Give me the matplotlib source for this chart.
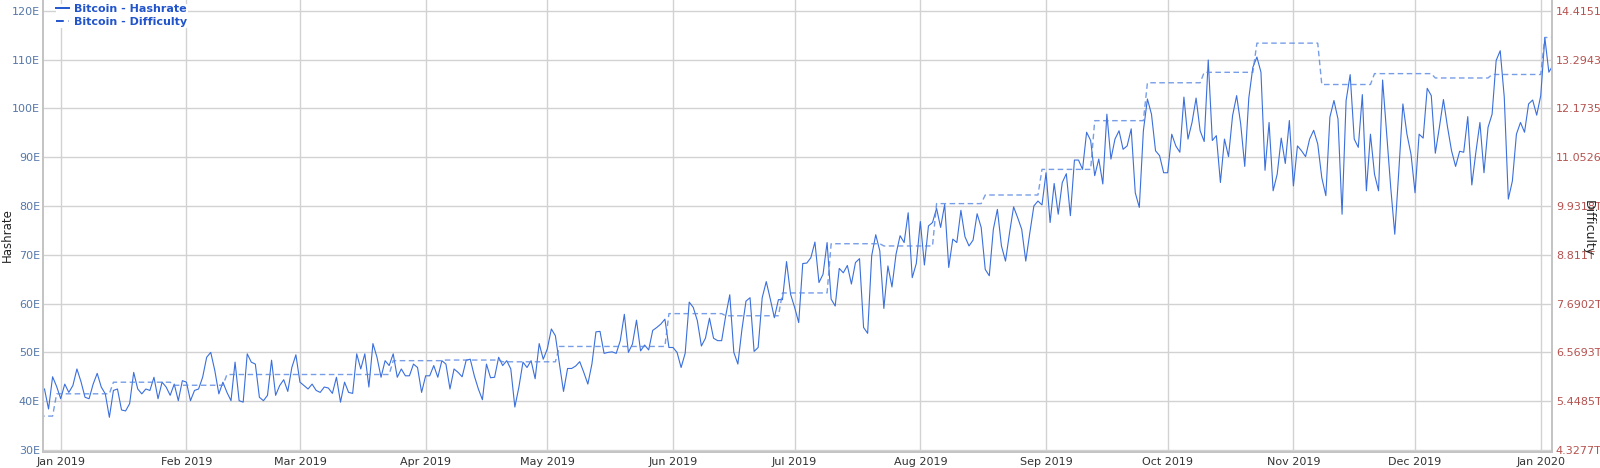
import matplotlib
matplotlib.use("Agg")
import matplotlib.pyplot as plt
import matplotlib.dates as mdates
import pandas as pd

# daily hashrate (EH/s), starting 2018-12-28
hashrate_start = "2018-12-28"
hashrate = [
    42.5, 38.4, 45, 43, 40.5, 43.5, 41.8, 43.2, 46.6, 44,
    40.8, 40.5, 43.5, 45.7, 42.9, 41.5, 36.7, 42.2, 42.5, 38.2,
    38, 39.5, 45.9, 42.5, 41.5, 42.5, 42.2, 44.9, 40.5, 43.9,
    42.9, 41.2, 43.5, 40.1, 44.2, 43.9, 40.1, 42.2, 42.5, 44.9,
    49, 50, 46.3, 41.5, 43.9, 41.8, 40.1, 48, 40.1, 39.8,
    49.7, 48, 47.6, 40.8, 40.1, 41.2, 48.4, 41.2, 43.2, 44.4,
    42, 46.9, 49.5, 43.9, 43.2, 42.5, 43.5, 42.2, 41.8, 42.9,
    42.7, 41.6, 44.9, 39.8, 43.9, 41.8, 41.6, 49.7, 46.6, 49.7,
    42.9, 51.8, 49, 44.9, 48.3, 47.3, 49.7, 44.9, 46.6, 45.2,
    45.2, 47.6, 46.9, 41.8, 45.2, 45.2, 47.3, 44.9, 48.3, 47.6,
    42.5, 46.6, 45.9, 45, 48.4, 48.6, 45.2, 42.5, 40.3, 47.6,
    44.8, 44.9, 49, 47.3, 48.3, 46.6, 38.8, 42.9, 48, 46.9,
    48.3, 44.6, 51.8, 48.6, 50.7, 54.8, 53.4,
    47.6, 42, 46.7, 46.7, 47.2, 48.1, 45.9, 43.5, 47.6, 54.2,
    54.3, 49.8, 50, 50.1, 49.8, 52.4, 57.8, 50, 51.7, 56.6,
    50.3, 51.5, 50.5, 54.5, 55.1, 55.8, 56.8, 51, 51, 50,
    46.9, 49.8, 60.3, 59.2, 56.5, 51.3, 52.9, 57, 52.9, 52.4,
    52.4, 57.5, 61.8, 50, 47.6, 54.7, 60.5, 61.2, 50.2, 51,
    61.2, 64.5, 60.9, 57.1, 60.8, 60.8, 68.6, 61.9, 59.2, 56.1,
    68.2, 68.3, 69.4, 72.6, 64.3, 66, 72.5, 60.9, 59.5, 67.2,
    66.3, 67.8, 64, 68.4, 69.2, 55.1, 53.9, 69.8, 74.1, 70.8,
    59, 67.7, 63.4, 70.1, 73.9, 72.5, 78.6, 65.3, 68.2, 76.8,
    67.9, 75.9, 76.6, 79.5, 75.6, 80.3, 67.4, 73.2, 72.5, 79.1,
    73.7, 71.8, 73, 78.4, 75.6, 67, 65.7, 75.2, 79.3, 71.8,
    68.7, 74.5, 79.8, 77.6, 75.2, 68.7, 74.5, 80, 81, 80.2,
    86.8, 76.6, 84.6, 78.3, 84.8, 86.6, 78, 89.4, 89.4, 87.5,
    95.1, 93.4, 86.2, 89.6, 84.5, 98.8, 89.6, 93.7, 95.4, 91.6,
    92.3, 95.8, 82.7, 79.7, 95.4, 101.9, 98.8, 91.3, 90.3, 86.8,
    86.8, 94.7, 92.3, 91, 102.3, 93.7, 97.1, 102.1, 95.4, 93.2,
    109.9, 93.4, 94.4, 84.8, 93.7, 90.1, 98.5, 102.6, 96.8, 88.1,
    102.1, 108.4, 110.5, 107.4, 87.3, 97.1, 83.1, 86.5, 93.9, 88.7,
    97.5, 84.1, 92.3, 91.3, 90.1, 93.7, 95.5, 92.7, 85.8, 82.1,
    98.2, 101.6, 97.8, 78.3, 101.6, 106.9, 93.7, 92, 102.8, 83.1,
    94.7, 86.5, 83.1, 105.8, 94.7, 83.8, 74.2, 87.2, 100.9, 94.7,
    90.6, 82.7, 94.7, 93.9, 104.1, 102.6, 90.8, 96.1, 101.8, 96.2,
    91.3, 88.1, 91.2, 91, 98.3, 84.3, 91, 97.1, 86.8, 96.1,
    98.8, 109.8, 111.8, 102.3, 81.4, 85.1, 94.7, 97.1, 95.1, 100.9,
    101.7, 98.6, 102.6, 114.5, 107.4, 108.8,
]

# difficulty adjustments (T)
diff_dates = ["2018-12-20", "2018-12-31", "2019-01-14", "2019-01-29", "2019-02-11",
              "2019-03-24", "2019-04-06", "2019-04-20", "2019-05-04", "2019-05-31",
              "2019-06-14", "2019-06-28", "2019-07-10", "2019-07-23", "2019-08-05",
              "2019-08-17", "2019-08-31", "2019-09-13", "2019-09-26", "2019-10-10",
              "2019-10-23", "2019-11-08", "2019-11-21", "2019-12-06", "2019-12-20",
              "2020-01-02"]
diff_values = [5.106, 5.618, 5.884, 5.814, 6.061,
               6.379, 6.393, 6.353, 6.705, 7.459,
               7.41, 7.934, 9.064, 9.013, 9.985,
               10.183, 10.771, 11.89, 12.76, 13.0,
               13.67, 12.72, 12.97, 12.87, 12.95,
               13.80]
diff_end = "2020-01-06"

left_ticks = [30, 40, 50, 60, 70, 80, 90, 100, 110, 120]
right_labels = ["4.3277T", "5.4485T", "6.5693T", "7.6902T", "8.811T",
                "9.9318T", "11.0526", "12.1735", "13.2943", "14.4151"]
d_min, d_step = 4.3277, 1.12082

hr_dates = pd.date_range(hashrate_start, periods=len(hashrate), freq="D")

# step vertices: each level held until the day before the next adjustment
dd = pd.to_datetime(diff_dates + [diff_end])
step_x, step_y = [], []
for i, v in enumerate(diff_values):
    step_x += [dd[i], dd[i + 1] - pd.Timedelta(days=1)]
    step_y += [v, v]

fig = plt.figure(figsize=(16, 4.68), dpi=100)
ax = fig.add_axes([42.7 / 1600, 1 - 451.7 / 468, 1509 / 1600, 451.7 / 468])
ax2 = ax.twinx()

ylo, yhi = 29.65, 122.19
ax.set_ylim(ylo, yhi)
ax2.set_ylim(d_min + (ylo - 30) * d_step / 10, d_min + (yhi - 30) * d_step / 10)

l1, = ax.plot(hr_dates, hashrate, color="#3a6fdc", lw=0.8, label="Bitcoin - Hashrate", zorder=3)
l2, = ax2.plot(step_x, step_y, color="#5585e2", lw=1.0, ls=(0, (4, 2.5)), alpha=0.8,
               label="Bitcoin - Difficulty", zorder=2)

ax.set_xlim(pd.Timestamp("2019-01-01") - pd.Timedelta(days=4.44),
            pd.Timestamp("2019-01-01") + pd.Timedelta(days=367.7))
ax.xaxis.set_major_locator(mdates.MonthLocator())
ax.xaxis.set_major_formatter(mdates.DateFormatter("%b %Y"))

ax.set_yticks(left_ticks)
ax.set_yticklabels([f"{t}E" for t in left_ticks])
ax2.set_yticks([d_min + i * d_step for i in range(len(right_labels))])
ax2.set_yticklabels(right_labels)

ax.grid(True, color="#d2d2d2", lw=1)
ax.set_axisbelow(True)
ax.tick_params(axis="x", length=0, pad=4, labelsize=8, labelcolor="#333333")
ax.tick_params(axis="y", length=0, pad=2, labelsize=8, labelcolor="#5577aa")
ax2.tick_params(axis="y", length=0, pad=3, labelsize=8, labelcolor="#b5524f")

for a in (ax, ax2):
    a.spines["top"].set_visible(False)
    for s in ("left", "right", "bottom"):
        a.spines[s].set_color("#c4c4c4")
        a.spines[s].set_linewidth(1.3)

fig.text(7 / 1600, 1 - 235 / 468, "Hashrate", rotation=90, ha="center", va="center",
         fontsize=8.5, color="#222222")
fig.text(1588 / 1600, 1 - 228 / 468, "Difficulty", rotation=-90, ha="center", va="center",
         fontsize=9, color="#222222")

leg = ax2.legend(handles=[l1, l2], loc="upper left", bbox_to_anchor=(0.0085, 0.992),
                 frameon=True, facecolor="white", edgecolor="none", framealpha=1,
                 fontsize=8, handlelength=1.2, handletextpad=0.45, labelspacing=0.25,
                 borderpad=0.05, borderaxespad=0)
for t in leg.get_texts():
    t.set_color("#2255cc")
    t.set_fontweight("bold")
for h in leg.legend_handles:
    h.set_color("#2255cc")
    h.set_alpha(1)
    h.set_linewidth(1.4)
leg.set_zorder(5)

fig.savefig("out.png", dpi=100)
